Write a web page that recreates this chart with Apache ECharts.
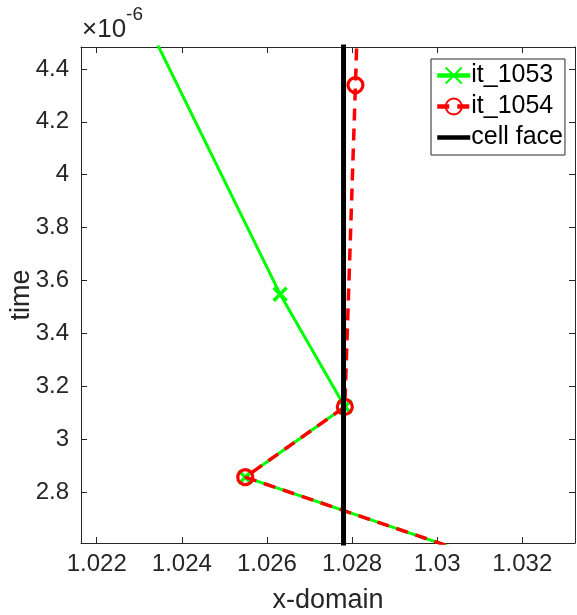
<!DOCTYPE html>
<html><head><meta charset="utf-8">
<script src="https://cdn.jsdelivr.net/npm/echarts@6/dist/echarts.min.js"></script>
<style>html,body{margin:0;padding:0;background:#fff}#c{width:577px;height:615px}</style>
</head><body><div id="c"></div>
<script>
// values in x-domain units and time in units of 1e-6 s
const it1053X = [1.03109, 1.02549, 1.02783, 1.02631, 1.02310];
const it1053T = [2.55, 2.856, 3.122, 3.548, 4.60];
const it1054X = [1.03109, 1.02549, 1.02783, 1.02808, 1.02813];
const it1054T = [2.55, 2.856, 3.122, 4.339, 4.60];
const cellFaceX = [1.0278, 1.0278];
const cellFaceT = [2.5, 4.7];
const xRange = [1.02163, 1.03324];
const yRange = [2.607, 4.483];
const seriesNames = ['it_1053', 'it_1054', 'cell face'];

const FONT = '"Liberation Sans", Arial, Helvetica, sans-serif';
const AX = '#262626';
const zip = (a, b) => a.map((v, i) => [v, b[i]]);
const chart = echarts.init(document.getElementById('c'), null, {renderer: 'canvas'});

const baseX = {
  type: 'value', min: xRange[0], max: xRange[1], splitNumber: 6,
  axisLine: {show: true, onZero: false, lineStyle: {color: AX, width: 1}},
  axisTick: {show: true, inside: true, length: 6, lineStyle: {color: AX}},
  splitLine: {show: false},
};
const baseY = {
  type: 'value', min: yRange[0], max: yRange[1], splitNumber: 9,
  axisLine: {show: true, onZero: false, lineStyle: {color: AX, width: 1}},
  axisTick: {show: true, inside: true, length: 6, lineStyle: {color: AX}},
  splitLine: {show: false},
};
const xMarker = 'path://M0,0L10,10M10,0L0,10';

chart.setOption({
  animation: false,
  grid: {left: 81, right: 2, top: 47, bottom: 72, containLabel: false, outerBoundsMode: 'none'},
  xAxis: [
    Object.assign({}, baseX, {
      position: 'bottom',
      name: 'x-domain', nameLocation: 'middle', nameGap: 44, nameMoveOverlap: false,
      nameTextStyle: {fontFamily: FONT, fontSize: 27, color: AX},
      axisLabel: {show: true, fontFamily: FONT, fontSize: 24, color: AX, margin: 9,
        showMinLabel: false, showMaxLabel: false}
    }),
    Object.assign({}, baseX, {position: 'top', axisLabel: {show: false}})
  ],
  yAxis: [
    Object.assign({}, baseY, {
      position: 'left',
      name: 'time', nameLocation: 'middle', nameGap: 46, nameMoveOverlap: false,
      nameTextStyle: {fontFamily: FONT, fontSize: 27, color: AX},
      axisLabel: {show: true, fontFamily: FONT, fontSize: 24, color: AX, margin: 12,
        showMinLabel: false, showMaxLabel: false}
    }),
    Object.assign({}, baseY, {position: 'right', axisLabel: {show: false}})
  ],
  legend: {
    orient: 'vertical', left: 431, top: 59,
    backgroundColor: '#fff', borderColor: AX, borderWidth: 1,
    padding: [4, 2, 5, 4], itemGap: 6, itemWidth: 33, itemHeight: 20,
    lineStyle: {width: 4.5},
    textStyle: {fontFamily: FONT, fontSize: 25, color: '#000', padding: [0, 0, 0, -4]},
    data: seriesNames
  },
  graphic: [{
    type: 'text', left: 82, top: 5,
    style: {
      text: '{a|×10}{b|-6}',
      rich: {
        a: {fontFamily: FONT, fontSize: 26, fill: AX, verticalAlign: 'bottom', padding: [12, 0, 0, 0]},
        b: {fontFamily: FONT, fontSize: 19, fill: AX, verticalAlign: 'top'}
      }
    }
  }],
  series: [
    {
      name: seriesNames[0], type: 'line', data: zip(it1053X, it1053T), clip: true,
      symbol: xMarker, symbolSize: 13, showAllSymbol: true,
      lineStyle: {color: '#00ff00', width: 3},
      itemStyle: {color: '#00ff00', borderColor: '#00ff00', borderWidth: 3.5},
      z: 2
    },
    {
      name: seriesNames[1], type: 'line', data: zip(it1054X, it1054T), clip: true,
      symbol: 'circle', symbolSize: 15, showAllSymbol: true,
      lineStyle: {color: '#ff0000', width: 3.5, type: [12, 8]},
      itemStyle: {color: 'rgba(0,0,0,0)', borderColor: '#ff0000', borderWidth: 3.2},
      z: 3
    },
    {
      name: seriesNames[2], type: 'line', data: zip(cellFaceX, cellFaceT), clip: true,
      symbol: 'circle', symbolSize: 1, showSymbol: false,
      lineStyle: {color: '#000', width: 5},
      itemStyle: {color: 'rgba(0,0,0,0)', borderWidth: 0},
      z: 4
    }
  ]
});
</script></body></html>
